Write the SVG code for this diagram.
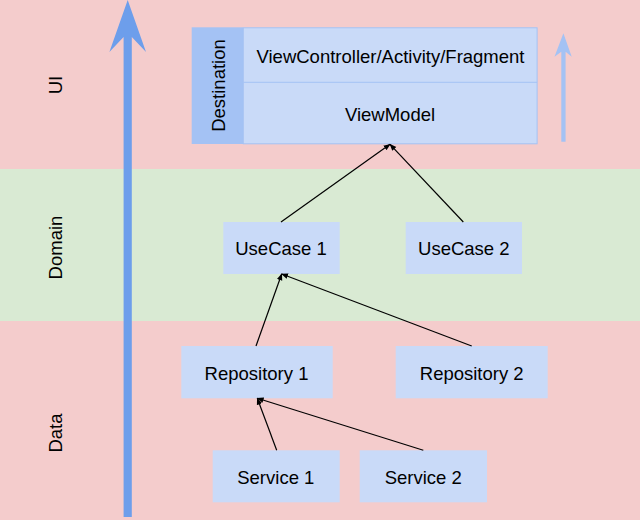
<svg xmlns="http://www.w3.org/2000/svg" width="640" height="520" viewBox="0 0 640 520">
<defs>
<style>
.t{font-family:"Liberation Sans",Arial,sans-serif;font-size:18.5px;fill:#000;text-anchor:middle}
.n{fill:#c9daf8}
.c{stroke:#000;stroke-width:1.2;fill:none;marker-end:url(#ah)}
</style>
<marker id="ah" viewBox="0 0 10 10" refX="9" refY="5" markerWidth="7" markerHeight="7" markerUnits="userSpaceOnUse" orient="auto">
<path d="M0,1 L10,5 L0,9 Z" fill="#000"/>
</marker>
</defs>
<g id="bands">
<rect x="0" y="0" width="640" height="169" fill="#f4cccc"/>
<rect x="0" y="169" width="640" height="152" fill="#d9ead3"/>
<rect x="0" y="321" width="640" height="199" fill="#f4cccc"/>
<text class="t" transform="translate(62,85) rotate(-90)">UI</text>
<text class="t" transform="translate(62,247.5) rotate(-90)">Domain</text>
<text class="t" transform="translate(62,433) rotate(-90)">Data</text>
</g>
<g id="flow-arrow">
<polygon points="127.7,0 146,52 131.8,37 131.8,517 123.6,517 123.6,37 109.4,52" fill="#6d9eeb"/>
</g>
<g id="small-arrow">
<polygon points="563.4,33.3 571.7,56.7 565.6,51.7 565.6,141.7 561.3,141.7 561.3,51.7 554.5,56.7" fill="#a4c2f4"/>
</g>
<g id="destination">
<rect x="191.7" y="27.3" width="51.6" height="116.7" fill="#a4c2f4"/>
<text class="t" transform="translate(225,85.5) rotate(-90)">Destination</text>
<rect x="243.3" y="27.8" width="293.8" height="116" fill="#c9daf8" stroke="#a4c2f4" stroke-width="1"/>
<line x1="243.3" y1="82.3" x2="537.1" y2="82.3" stroke="#a4c2f4" stroke-width="1"/>
<text class="t" x="390.5" y="62.5">ViewController/Activity/Fragment</text>
<text class="t" x="390" y="120.5">ViewModel</text>
</g>
<g id="usecase1"><rect class="n" x="223.3" y="222" width="116.4" height="52"/><text class="t" x="281" y="255">UseCase 1</text></g>
<g id="usecase2"><rect class="n" x="405.7" y="222" width="116.3" height="52"/><text class="t" x="463.8" y="255">UseCase 2</text></g>
<g id="repository1"><rect class="n" x="181.3" y="346" width="151.4" height="52.3"/><text class="t" x="256.5" y="379.5">Repository 1</text></g>
<g id="repository2"><rect class="n" x="395.7" y="346" width="152" height="52.3"/><text class="t" x="471.7" y="379.5">Repository 2</text></g>
<g id="service1"><rect class="n" x="212.7" y="450.3" width="127" height="52"/><text class="t" x="275.8" y="483.5">Service 1</text></g>
<g id="service2"><rect class="n" x="359.7" y="450.3" width="127.3" height="52"/><text class="t" x="423.2" y="483.5">Service 2</text></g>
<g id="connectors">
<line class="c" x1="281" y1="222" x2="390" y2="144.3"/>
<line class="c" x1="463.3" y1="222" x2="390" y2="144.3"/>
<line class="c" x1="256" y1="346" x2="281.7" y2="274"/>
<line class="c" x1="471.7" y1="346" x2="281.7" y2="274"/>
<line class="c" x1="276.7" y1="450.3" x2="257.3" y2="398.3"/>
<line class="c" x1="423.3" y1="450.3" x2="257.3" y2="398.3"/>
</g>
</svg>
